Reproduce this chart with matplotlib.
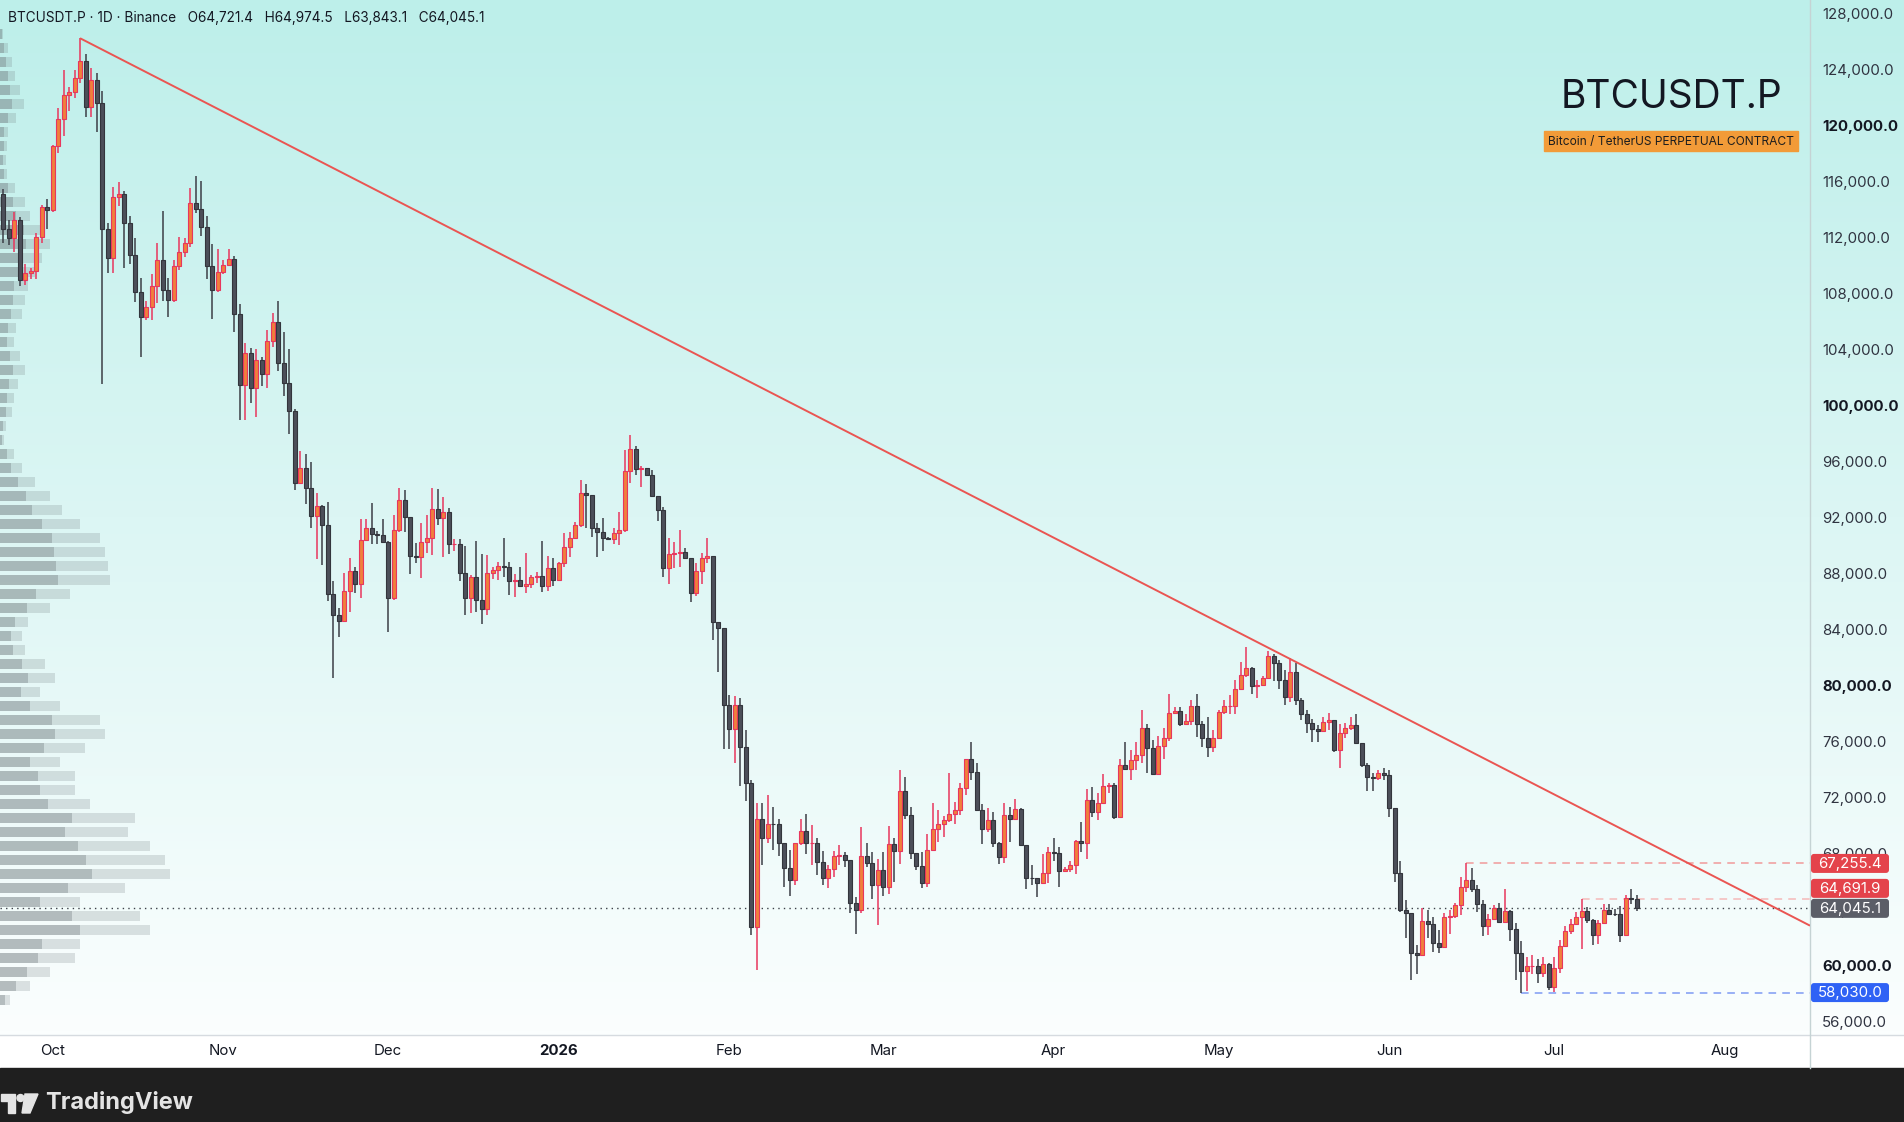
# BTCUSDT.P daily chart with falling trend line (TradingView look)
import numpy as np
import pandas as pd
import matplotlib
matplotlib.use("Agg")
import matplotlib.pyplot as plt
import matplotlib.dates as mdates
from matplotlib.colors import LinearSegmentedColormap
from matplotlib.patches import Rectangle, FancyBboxPatch, Polygon, Circle

plt.rcParams['font.family'] = ['Inter', 'DejaVu Sans']

# ---- data, prices in thousands of USDT ----
first_day = "2025-09-22"
first_open = 115.1

close_k = [
    # Sep 22-30
    112.55, 111.9, 113.2, 108.9, 109.45, 109.6, 112.0, 114.15, 113.9,
    # Oct
    118.5, 120.4, 122.15, 122.35, 123.35, 124.6, 121.3, 123.2, 121.55, 112.6,
    110.5, 114.85, 115.05, 113.0, 110.7, 108.1, 106.3, 107.0, 108.5, 110.35,
    108.2, 107.5, 109.95, 110.9, 111.55, 114.4, 114.0, 112.75, 109.95, 108.2, 109.5,
    # Nov
    110.0, 110.4, 106.5, 101.4, 103.75, 101.25, 103.2, 102.2, 104.55, 105.9,
    103.0, 101.55, 99.6, 94.45, 95.5, 94.1, 92.05, 92.8, 91.4, 86.5,
    85.0, 84.55, 86.7, 88.15, 87.2, 90.35, 91.2, 90.8, 90.7, 90.25,
    # Dec
    86.2, 91.1, 93.25, 92.0, 89.2, 89.15, 90.25, 90.5, 92.55, 91.9,
    92.35, 90.1, 90.1, 88.0, 86.25, 87.75, 86.1, 85.4, 88.0, 88.2,
    88.5, 88.45, 87.4, 87.5, 87.1, 87.2, 87.7, 87.8, 87.1, 88.35, 87.5,
    # Jan
    88.7, 89.85, 90.5, 91.4, 93.75, 93.55, 91.25, 90.95, 90.5, 90.45,
    90.85, 91.1, 95.3, 96.85, 95.45, 95.5, 95.0, 93.5, 92.5, 88.35,
    89.35, 89.4, 89.5, 89.05, 86.55, 88.15, 89.1, 89.2, 84.5, 84.1, 78.6,
    # Feb
    76.85, 78.55, 75.6, 73.0, 62.75, 70.45, 69.1, 70.1, 70.05, 68.7,
    66.9, 66.1, 68.7, 69.6, 68.7, 68.75, 67.35, 66.25, 66.85, 67.8,
    67.85, 67.5, 64.45, 63.9, 67.8, 67.3, 65.7, 66.8,
    # Mar
    65.6, 68.65, 68.15, 72.45, 70.7, 68.0, 67.1, 65.85, 68.25, 69.75,
    70.05, 70.35, 70.8, 71.05, 72.65, 74.75, 73.8, 71.05, 69.75, 70.35,
    68.75, 67.7, 70.7, 70.4, 71.15, 68.6, 66.25, 66.2, 65.85, 66.6, 68.05,
    # Apr
    68.0, 66.75, 66.85, 67.15, 68.85, 68.7, 71.8, 70.95, 71.6, 72.8,
    72.85, 70.6, 74.3, 74.0, 74.65, 75.0, 76.9, 75.5, 73.65, 75.65,
    76.2, 78.0, 78.15, 77.25, 77.45, 78.5, 77.2, 76.2, 75.6, 76.2,
    # May
    78.05, 78.5, 78.5, 79.7, 80.75, 81.25, 79.9, 80.0, 80.5, 82.05,
    81.55, 80.35, 79.15, 80.9, 78.95, 77.95, 77.3, 76.85, 76.7, 77.35,
    77.5, 75.35, 76.6, 76.9, 77.15, 75.85, 74.3, 73.45, 73.35, 73.7, 73.55,
    # Jun
    71.25, 66.6, 63.9, 63.75, 60.85, 60.7, 63.15, 62.9, 61.55, 61.3,
    63.45, 63.5, 64.3, 65.55, 66.1, 65.45, 64.35, 62.8, 63.3, 64.1,
    63.1, 63.85, 62.55, 60.85, 59.55, 59.9, 59.9, 59.4, 60.05, 58.42,
    # Jul 1-16
    59.8, 61.33, 62.41, 62.96, 63.43, 63.86, 63.19, 62.12, 63.0, 63.96,
    63.67, 63.65, 62.17, 64.82, 64.7214, 64.0451,
]

high_k = [
    115.4, 113.2, 113.8, 113.4, 110.1, 109.8, 112.3, 114.3, 114.7,
    118.6, 121.2, 123.9, 122.75, 123.9, 126.2, 125.1, 124.1, 123.75, 122.4,
    113.0, 115.6, 115.9, 115.3, 113.5, 111.9, 109.1, 107.4, 109.35, 111.55,
    113.85, 109.05, 110.35, 112.0, 111.95, 115.5, 116.35, 116.0, 113.5, 111.5, 111.15,
    110.35, 111.15, 110.65, 107.2, 104.45, 104.1, 104.0, 103.45, 105.35, 106.55,
    107.4, 105.2, 104.0, 99.75, 96.7, 96.5, 95.9, 93.7, 92.85, 93.1,
    87.4, 85.5, 88.0, 89.1, 88.45, 91.85, 91.85, 93.0, 91.0, 91.85,
    90.3, 92.15, 94.05, 93.95, 92.0, 90.15, 91.6, 92.15, 94.1, 94.0,
    93.4, 92.65, 90.45, 90.4, 89.9, 87.85, 90.3, 89.35, 89.3, 88.45,
    88.8, 90.5, 88.8, 87.9, 88.45, 89.4, 87.85, 88.05, 90.3, 89.2, 89.1,
    88.8, 90.85, 90.9, 91.65, 94.65, 94.35, 93.6, 91.55, 91.9, 90.6,
    91.2, 92.35, 96.8, 97.85, 97.05, 95.65, 95.5, 95.35, 93.5, 92.75,
    90.5, 90.25, 91.05, 89.8, 89.05, 88.75, 89.4, 90.5, 89.2, 84.5, 84.1,
    79.3, 79.2, 79.05, 76.8, 73.2, 71.6, 71.55, 72.15, 71.3, 70.4,
    68.7, 68.25, 68.75, 70.45, 70.8, 70.0, 69.1, 68.15, 67.15, 68.15,
    68.55, 68.1, 67.5, 64.85, 69.85, 68.75, 68.1, 67.6,
    68.05, 69.95, 69.1, 73.9, 73.45, 71.3, 68.0, 68.05, 69.35, 71.6,
    71.1, 70.65, 73.7, 71.65, 73.0, 74.75, 75.9, 74.45, 71.5, 71.2,
    70.9, 68.8, 71.6, 71.3, 71.85, 71.25, 68.6, 67.15, 66.2, 67.95, 68.45,
    69.1, 68.45, 67.0, 67.4, 68.95, 70.2, 72.6, 72.75, 72.3, 73.65,
    73.0, 73.0, 74.75, 75.9, 75.35, 75.95, 78.2, 77.25, 76.05, 76.35,
    76.9, 79.35, 78.45, 78.4, 77.95, 78.95, 79.35, 77.4, 77.75, 76.8,
    78.2, 78.95, 79.3, 80.35, 81.65, 82.75, 81.3, 80.35, 80.65, 82.4,
    82.25, 81.8, 81.05, 81.9, 81.55, 79.05, 78.2, 77.6, 77.15, 77.75,
    78.0, 77.5, 77.25, 77.3, 77.75, 77.95, 75.85, 74.4, 73.7, 73.95, 74.1,
    73.95, 71.25, 67.4, 64.65, 63.75, 61.45, 64.05, 63.95, 63.45, 62.5,
    63.75, 63.95, 64.4, 66.3, 67.2554, 66.9, 65.7, 64.65, 63.65, 64.3,
    64.4, 65.45, 63.9, 63.0, 61.75, 60.55, 60.7, 60.45, 60.55, 60.15,
    60.55, 61.76, 62.76, 63.31, 63.79, 64.6919, 64.15, 63.31, 63.19, 64.39,
    64.34, 64.03, 64.2, 64.98, 65.46, 64.9745,
]

low_k = [
    111.6, 111.4, 110.9, 108.5, 108.6, 109.0, 109.0, 111.6, 112.6,
    113.8, 118.0, 119.2, 121.0, 121.9, 123.0, 120.6, 120.6, 119.5, 101.5,
    109.45, 109.45, 114.2, 109.8, 110.05, 107.35, 103.45, 106.1, 106.1, 107.3,
    107.4, 106.3, 107.35, 109.65, 110.55, 111.3, 113.75, 112.1, 109.0, 106.15, 108.1,
    109.35, 109.9, 105.25, 98.9, 98.9, 100.15, 99.15, 101.35, 101.25, 104.15,
    102.4, 100.65, 97.95, 93.9, 94.45, 92.9, 91.2, 89.0, 88.55, 86.0,
    80.5, 83.4, 84.55, 85.2, 86.6, 86.2, 90.3, 90.1, 90.1, 90.2,
    83.8, 86.05, 90.95, 90.95, 87.9, 88.75, 87.65, 89.45, 89.3, 91.45,
    89.15, 89.35, 89.6, 87.45, 85.0, 85.15, 85.2, 84.35, 85.0, 87.6,
    87.5, 87.75, 86.45, 86.3, 87.1, 86.6, 86.9, 87.3, 86.65, 86.75, 87.1,
    87.45, 88.4, 89.15, 90.45, 91.3, 91.2, 90.6, 89.15, 89.55, 90.35,
    90.05, 90.0, 90.95, 94.4, 95.0, 94.15, 94.9, 93.45, 91.75, 87.7,
    87.2, 88.35, 88.45, 89.0, 85.95, 86.35, 87.2, 88.75, 83.25, 80.9, 75.4,
    75.4, 74.45, 72.8, 71.75, 62.15, 59.65, 67.15, 68.75, 68.2, 67.8,
    65.6, 64.95, 65.75, 68.6, 67.9, 67.15, 66.4, 65.7, 65.5, 66.3,
    67.15, 67.0, 63.75, 62.25, 63.75, 67.0, 64.75, 62.85,
    64.9, 65.1, 65.95, 67.25, 70.45, 67.6, 66.8, 65.5, 65.6, 68.2,
    68.8, 69.15, 70.25, 70.1, 70.7, 72.15, 73.2, 71.0, 68.65, 69.5,
    68.45, 67.2, 67.3, 68.8, 70.35, 68.55, 65.45, 65.75, 64.85, 65.8, 65.85,
    67.45, 65.6, 66.75, 66.65, 66.5, 68.1, 67.6, 70.6, 70.35, 71.6,
    72.3, 70.4, 70.5, 73.9, 73.2, 73.9, 74.4, 73.7, 73.65, 73.55,
    74.7, 76.0, 77.9, 77.05, 77.15, 77.15, 76.3, 75.6, 74.85, 75.2,
    76.2, 77.95, 77.95, 77.95, 79.65, 80.6, 79.35, 79.05, 79.9, 80.5,
    80.3, 79.75, 78.55, 78.8, 78.55, 77.5, 76.6, 75.9, 75.95, 76.65,
    76.8, 75.25, 74.1, 76.25, 76.8, 75.8, 74.15, 72.45, 72.4, 73.25, 73.2,
    70.55, 65.95, 63.8, 61.9, 58.95, 59.35, 60.65, 61.9, 60.9, 60.85,
    61.3, 62.25, 63.35, 63.55, 65.25, 65.25, 63.8, 62.1, 62.15, 63.2,
    63.05, 63.0, 61.75, 58.95, 58.03, 58.15, 59.35, 58.75, 59.15, 58.2,
    58.1, 59.42, 61.29, 62.24, 62.83, 61.17, 63.0, 61.4, 61.52, 62.95,
    63.55, 63.48, 61.64, 62.05, 64.34, 63.8431,
]

assert len(close_k) == len(high_k) == len(low_k)

# trend line drawn from the October top through the May highs
trend_dates = ["2025-10-06", "2026-05-13"]
trend_prices = [126.2, 82.06]

# marked horizontal levels
level_prices = [67255.4, 64691.9, 58030.0]
level_dates = ["2026-06-15", "2026-07-06", "2026-06-25"]
level_colors = ["#f19a9a", "#f5b9b9", "#7e9bf3"]

# visible range volume profile, 1000 USDT rows (arbitrary units)
vp_rows = np.arange(57.5, 127.0, 1.0)
vp_total = [10, 30, 50, 75, 80, 150, 140, 80, 125, 170,
            165, 150, 128, 135, 90, 75, 75, 60, 85, 105,
            100, 60, 40, 55, 45, 25, 22, 28, 50, 70,
            110, 108, 105, 100, 80, 62, 50, 35, 22, 14,
            4, 6, 12, 14, 18, 25, 20, 14, 16, 22,
            25, 28, 35, 42, 50, 45, 30, 25, 15, 7,
            6, 7, 8, 16, 24, 20, 15, 12, 8, 3]
vp_up = [5, 16, 27, 38, 42, 80, 72, 40, 68, 92,
         86, 78, 65, 72, 48, 40, 38, 30, 44, 55,
         52, 30, 21, 28, 22, 13, 11, 15, 27, 36,
         58, 56, 54, 52, 42, 32, 26, 18, 11, 7,
         2, 3, 6, 7, 9, 13, 10, 7, 8, 11,
         13, 14, 18, 22, 26, 24, 16, 13, 8, 4,
         3, 4, 4, 8, 12, 10, 8, 6, 4, 2]

month_ticks = ["2025-10-01", "2025-11-01", "2025-12-01", "2026-01-01", "2026-02-01",
               "2026-03-01", "2026-04-01", "2026-05-01", "2026-06-01", "2026-07-01",
               "2026-08-01"]
month_labels = ["Oct", "Nov", "Dec", "2026", "Feb", "Mar", "Apr", "May", "Jun", "Jul", "Aug"]

# ---- colours ----
BULL_FILL = "#f07f3c"
BULL_EDGE = "#e8365d"
BEAR_FILL = "#4c4f59"
BEAR_EDGE = "#33353c"
TEXT = "#131722"

# ---- build ----
c = np.array(close_k) * 1000
h = np.array(high_k) * 1000
l = np.array(low_k) * 1000
o = np.array([first_open] + close_k[:-1]) * 1000
dates = pd.date_range(first_day, periods=len(c), freq="D")
x = mdates.date2num(dates)

W, H = 1904, 1122
PLOT_R, PLOT_B, FOOT = 1810, 1035, 1068
fig = plt.figure(figsize=(W / 100, H / 100), dpi=100)
rect = [0, 1 - PLOT_B / H, PLOT_R / W, PLOT_B / H]

# background
bg = fig.add_axes([0, 0, 1, 1], zorder=0)
bg.set_xlim(0, W)
bg.set_ylim(H, 0)
bg.axis("off")
grad = np.linspace(0, 1, 256)[:, None]
cmap = LinearSegmentedColormap.from_list("tvbg", ["#bdefea", "#dcf6f4", "#fbfefe"])
bg.imshow(grad, cmap=cmap, extent=(0, W, PLOT_B, 0), aspect="auto")
bg.add_patch(Rectangle((0, PLOT_B), W, FOOT - PLOT_B, color="white"))
bg.add_patch(Rectangle((0, FOOT), W, H - FOOT, color="#1f1f1f"))
bg.plot([0, W], [PLOT_B, PLOT_B], color="#d6dbe0", lw=1)
bg.plot([PLOT_R, PLOT_R], [0, FOOT], color="#c5d3d4", lw=1)

ymin, ymax = 55000, 128930
x0 = mdates.date2num(pd.Timestamp("2025-10-01"))
xlim = (x0 - 9.55, x0 + 319.5)

# volume profile behind the candles
axp = fig.add_axes(rect, zorder=1)
axp.set_facecolor("none")
axp.axis("off")
axp.set_xlim(0, PLOT_R)
axp.set_ylim(ymin, ymax)
axp.barh(vp_rows * 1000, vp_total, height=780, color="#6f7a7e", alpha=0.22, lw=0)
axp.barh(vp_rows * 1000, vp_up, height=780, color="#6f7a7e", alpha=0.35, lw=0)

# main price axes
ax = fig.add_axes(rect, zorder=2)
ax.set_facecolor("none")
for s in ax.spines.values():
    s.set_visible(False)
ax.set_xlim(*xlim)
ax.set_ylim(ymin, ymax)

up = c >= o
ax.vlines(x, l, h, colors=np.where(up, BULL_EDGE, "#3c3e46"), linewidth=1.1, zorder=2)
ax.bar(x, np.maximum(np.abs(c - o), 1), bottom=np.minimum(o, c), width=0.72,
       color=np.where(up, BULL_FILL, BEAR_FILL),
       edgecolor=np.where(up, BULL_EDGE, BEAR_EDGE), linewidth=0.8, zorder=3)

# trend line
tx = mdates.date2num(pd.to_datetime(trend_dates))
slope = (trend_prices[1] - trend_prices[0]) / (tx[1] - tx[0])
t_end = trend_prices[0] + slope * (xlim[1] - tx[0])
ax.plot([tx[0], xlim[1]], [trend_prices[0] * 1000, t_end * 1000],
        color="#ea5552", lw=1.4, zorder=4, solid_capstyle="butt")

# levels
for p, d, col in zip(level_prices, level_dates, level_colors):
    ax.hlines(p, mdates.date2num(pd.Timestamp(d)), xlim[1], colors=col,
              linestyles=(0, (5, 4)), lw=1.1, zorder=1)
ax.axhline(c[-1], color="#3d4049", lw=1, linestyle=(0, (1, 3)), zorder=1)

# axes ticks
ax.yaxis.tick_right()
yt = np.arange(56000, 128001, 4000)
ax.set_yticks(yt)
ax.set_yticklabels([f"{v:,.1f}" for v in yt])
ax.tick_params(axis="y", length=0, pad=8.6, labelsize=10.8, labelcolor="#2f3340")
for lab, v in zip(ax.get_yticklabels(), yt):
    if v % 20000 == 0:
        lab.set_fontweight("bold")
        lab.set_color(TEXT)

ax.set_xticks(mdates.date2num(pd.to_datetime(month_ticks)))
ax.set_xticklabels(month_labels)
ax.tick_params(axis="x", length=0, pad=6.5, labelsize=10.8, labelcolor=TEXT)
for lab in ax.get_xticklabels():
    if lab.get_text() == "2026":
        lab.set_fontweight("bold")

# overlay for labels, in pixel coordinates
ov = fig.add_axes([0, 0, 1, 1], zorder=3)
ov.set_facecolor("none")
ov.set_xlim(0, W)
ov.set_ylim(H, 0)
ov.axis("off")


def ypx(price):
    return H - ax.transData.transform((xlim[0], price))[1]


def price_tag(yc, value, color):
    ov.add_patch(FancyBboxPatch((1811, yc - 9.5), 78, 19,
                                boxstyle="round,pad=0,rounding_size=3",
                                fc=color, ec="none"))
    ov.text(1850, yc + 0.5, f"{value:,.1f}", color="white", fontsize=10.8,
            ha="center", va="center")


y_last = ypx(c[-1])
price_tag(ypx(level_prices[0]), level_prices[0], "#e4434b")
price_tag(y_last - 20, level_prices[1], "#e4434b")
price_tag(y_last, c[-1], "#5b5e67")
price_tag(ypx(level_prices[2]), level_prices[2], "#2f62f5")

title = (f"BTCUSDT.P · 1D · Binance   O{o[-1]:,.1f}   H{h[-1]:,.1f}   "
         f"L{l[-1]:,.1f}   C{c[-1]:,.1f}")
ov.text(8, 18, title, fontsize=9.8, color=TEXT, ha="left", va="center")

ov.text(1671, 97, "BTCUSDT.P", fontsize=28, color=TEXT, ha="center", va="center")
ov.add_patch(Rectangle((1544, 131), 254, 20, color="#f29b38"))
ov.text(1671, 141.5, "Bitcoin / TetherUS PERPETUAL CONTRACT", fontsize=8.6,
        color="#1e1e1e", ha="center", va="center")

# TradingView logo in the footer
logo = "#e4e4e4"
ov.add_patch(Polygon([(1, 1094), (15, 1094), (15, 1113), (8, 1113), (8, 1101), (1, 1101)],
                     closed=True, color=logo))
ov.add_patch(Circle((20.5, 1098), 3.5, color=logo))
ov.add_patch(Polygon([(25, 1094), (38, 1094), (30, 1113), (22, 1113)], closed=True, color=logo))
ov.text(45, 1103, "TradingView", fontsize=17, fontweight="bold", color=logo,
        ha="left", va="center")

fig.savefig("out.png", dpi=100)
